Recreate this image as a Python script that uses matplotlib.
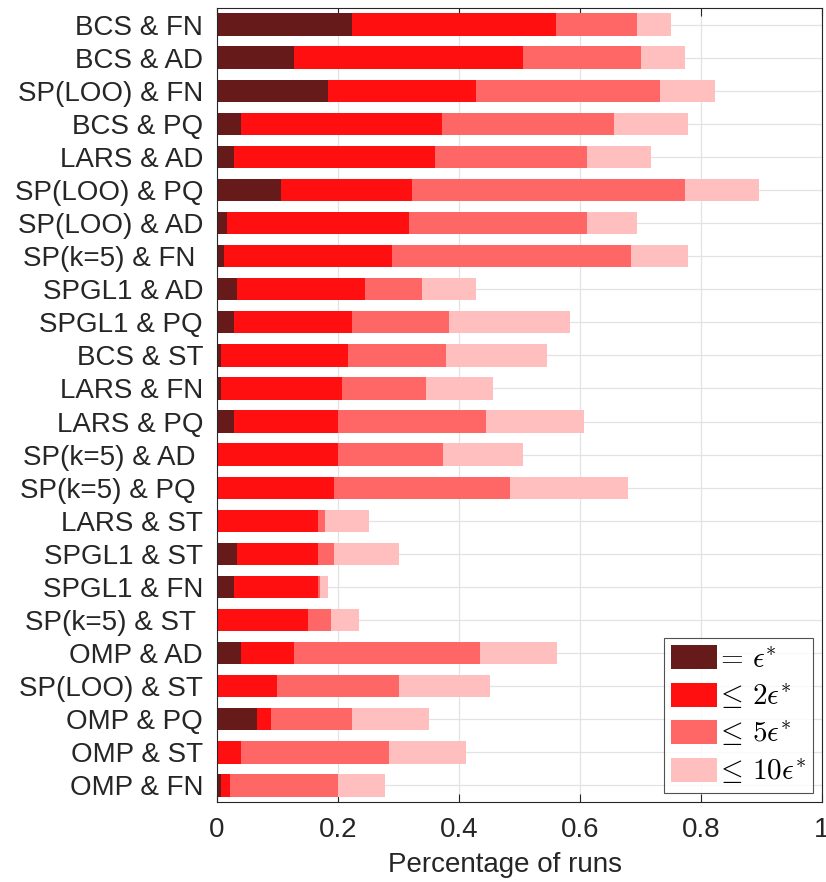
import numpy as np
import matplotlib.pyplot as plt

# method & test-function combos, top to bottom
labels = ["BCS & FN", "BCS & AD", "SP(LOO) & FN", "BCS & PQ", "LARS & AD",
          "SP(LOO) & PQ", "SP(LOO) & AD", "SP(k=5) & FN ", "SPGL1 & AD",
          "SPGL1 & PQ", "BCS & ST", "LARS & FN", "LARS & PQ", "SP(k=5) & AD ",
          "SP(k=5) & PQ ", "LARS & ST", "SPGL1 & ST", "SPGL1 & FN",
          "SP(k=5) & ST ", "OMP & AD", "SP(LOO) & ST", "OMP & PQ", "OMP & ST",
          "OMP & FN"]

# cumulative fraction of runs within each error level
eq_eps = [0.223, 0.128, 0.184, 0.039, 0.028, 0.105, 0.017, 0.012, 0.033,
          0.028, 0.006, 0.006, 0.028, 0.0, 0.0, 0.0, 0.033, 0.028,
          0.0, 0.039, 0.0, 0.066, 0.0, 0.006]
le_2eps = [0.561, 0.505, 0.428, 0.372, 0.361, 0.322, 0.317, 0.289, 0.244,
           0.223, 0.216, 0.206, 0.200, 0.200, 0.194, 0.167, 0.167, 0.167,
           0.150, 0.128, 0.100, 0.089, 0.039, 0.022]
le_5eps = [0.695, 0.700, 0.733, 0.656, 0.611, 0.773, 0.611, 0.684, 0.339,
           0.383, 0.378, 0.345, 0.444, 0.373, 0.484, 0.178, 0.194, 0.171,
           0.189, 0.434, 0.300, 0.223, 0.284, 0.200]
le_10eps = [0.751, 0.773, 0.823, 0.779, 0.717, 0.895, 0.695, 0.779, 0.428,
            0.584, 0.545, 0.456, 0.606, 0.506, 0.679, 0.251, 0.300, 0.184,
            0.234, 0.562, 0.451, 0.350, 0.412, 0.278]

legend_labels = [r"$=\,\epsilon^{*}$", r"$\leq\, 2\epsilon^{*}$",
                 r"$\leq\, 5\epsilon^{*}$", r"$\leq\, 10\epsilon^{*}$"]
colors = ["#661a1a", "#ff0f0f", "#ff6666", "#ffbfbf"]

plt.rcParams['font.family'] = ['Liberation Sans', 'DejaVu Sans']
plt.rcParams['mathtext.fontset'] = 'cm'

fig = plt.figure(figsize=(8.26, 8.82), dpi=100)
ax = fig.add_axes([0.2627, 0.0907, 0.7325, 0.9002])

levels = np.array([eq_eps, le_2eps, le_5eps, le_10eps])
y = np.arange(len(labels))
left = np.zeros(len(labels))
for k in range(4):
    width = levels[k] - left
    ax.barh(y, width, left=left, height=0.675, color=colors[k],
            edgecolor='none', label=legend_labels[k], zorder=2)
    left = levels[k]

ax.set_ylim(len(labels) - 0.5, -0.5)
ax.set_xlim(0, 1)
ax.set_yticks(y)
ax.set_yticklabels(labels)
ax.set_xticks([0, 0.2, 0.4, 0.6, 0.8, 1])
ax.set_xticklabels(["0", "0.2", "0.4", "0.6", "0.8", "1"])
ax.set_xlabel("Percentage of runs", fontsize=20, color='#262626')
ax.xaxis.set_label_coords(0.476, -0.063)

ax.grid(True, color='#e3e3e3', linewidth=0.9, zorder=0)
ax.set_axisbelow(True)
ax.tick_params(axis='x', direction='in', top=True, length=6, width=0.8,
               labelsize=20, colors='#262626', pad=11)
ax.tick_params(axis='y', length=0, labelsize=20, colors='#262626', pad=10)
for s in ax.spines.values():
    s.set_color('#262626')
    s.set_linewidth(0.8)

leg = ax.legend(loc='lower right', fontsize=21, frameon=True, fancybox=False,
                edgecolor='#262626', handlelength=1.55, handleheight=0.9,
                handletextpad=-0.05, labelspacing=0.28, borderpad=0.25,
                borderaxespad=0.3)
leg.get_frame().set_linewidth(0.8)

fig.savefig("out.png", dpi=100)
